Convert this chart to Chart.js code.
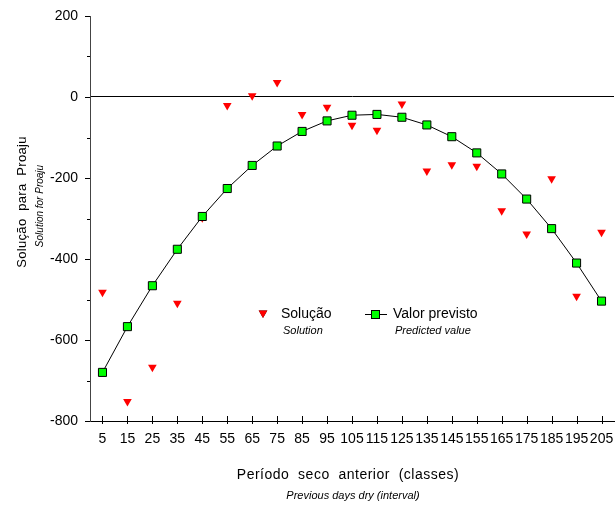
<!DOCTYPE html>
<html>
<head>
<meta charset="utf-8">
<script src="https://cdn.jsdelivr.net/npm/chart.js@4"></script>
<style>
  html, body { margin: 0; padding: 0; background: #fff; }
  canvas { display: block; }
</style>
</head>
<body>
<canvas id="chart" width="615" height="506"></canvas>
<script>
// ---------- dados ----------
const categories = [5, 15, 25, 35, 45, 55, 65, 75, 85, 95, 105, 115, 125, 135, 145, 155, 165, 175, 185, 195, 205];
const solution = [-482, -752, -667, -509, -298, -21, 3, 36, -43, -25, -70, -82, -17, -183, -167, -171, -281, -338, -202, -492, -334];
const predicted = [-680, -567, -466, -376, -295, -226, -169, -121, -85, -59, -45, -43, -50, -69, -98, -138, -190, -252, -325, -410, -504];
const yMajorTicks = [200, 0, -200, -400, -600, -800];

const FONT = "'Liberation Sans', Arial, sans-serif";

// ---------- marcas de eixo, legenda e títulos ----------
const decor = {
  id: 'decor',
  afterDraw(chart) {
    const { ctx, chartArea: area, scales: { x, y } } = chart;
    ctx.save();
    ctx.strokeStyle = '#000';
    ctx.lineWidth = 1;

    // ticks do eixo x (cruzam a linha do eixo)
    categories.forEach((v) => {
      const px = Math.round(x.getPixelForValue(v)) + 0.5;
      ctx.beginPath();
      ctx.moveTo(px, area.bottom - 5);
      ctx.lineTo(px, area.bottom + 3);
      ctx.stroke();
    });

    // ticks do eixo y (maiores a cada 200, menores a cada 100)
    for (let v = -800; v <= 200; v += 100) {
      const py = Math.round(y.getPixelForValue(v)) + 0.5;
      const len = v % 200 === 0 ? 5 : 3;
      ctx.beginPath();
      ctx.moveTo(area.left - len, py);
      ctx.lineTo(area.left, py);
      ctx.stroke();
    }

    // legenda
    ctx.fillStyle = '#000';
    ctx.textBaseline = 'middle';
    ctx.textAlign = 'left';
    Chart.helpers.drawPoint(ctx, { pointStyle: 'triangle', rotation: 180, radius: 5, borderWidth: 0 }, 263, 313);
    ctx.fillStyle = '#ff0000';
    ctx.fill();
    ctx.fillStyle = '#000';
    ctx.font = '14px ' + FONT;
    ctx.fillText('Solução', 281, 314);
    ctx.fillText('Valor previsto', 393, 314);
    ctx.font = 'italic 11px ' + FONT;
    ctx.fillText('Solution', 283, 331);
    ctx.fillText('Predicted value', 395, 331);

    ctx.beginPath();
    ctx.moveTo(365, 314.5);
    ctx.lineTo(387, 314.5);
    ctx.stroke();
    ctx.fillStyle = '#00ff00';
    ctx.fillRect(371.5, 310.5, 8, 8);
    ctx.strokeRect(371.5, 310.5, 8, 8);

    // título do eixo x
    ctx.fillStyle = '#000';
    ctx.textAlign = 'center';
    ctx.font = '14px ' + FONT;
    ctx.letterSpacing = '0.5px';
    ctx.fillText('Período  seco  anterior  (classes)', 348, 475);
    ctx.letterSpacing = '0px';
    ctx.font = 'italic 11px ' + FONT;
    ctx.fillText('Previous days dry (interval)', 353, 496);

    // título do eixo y
    ctx.save();
    ctx.translate(22, 202);
    ctx.rotate(-Math.PI / 2);
    ctx.font = '13px ' + FONT;
    ctx.letterSpacing = '0.3px';
    ctx.fillText('Solução  para  Proaju', 0, 0);
    ctx.restore();
    ctx.save();
    ctx.translate(40, 206);
    ctx.rotate(-Math.PI / 2);
    ctx.font = 'italic 10px ' + FONT;
    ctx.fillText('Solution for Proaju', 0, 0);
    ctx.restore();

    ctx.restore();
  },
};

new Chart(document.getElementById('chart'), {
  type: 'line',
  data: {
    datasets: [
      {
        label: 'Solução',
        data: categories.map((c, i) => ({ x: c, y: solution[i] })),
        showLine: false,
        pointStyle: 'triangle',
        rotation: 180,
        pointRadius: 5,
        pointBackgroundColor: '#ff0000',
        pointBorderWidth: 0,
        order: 2,
      },
      {
        label: 'Valor previsto',
        data: categories.map((c, i) => ({ x: c, y: predicted[i] })),
        borderColor: '#000',
        borderWidth: 1,
        pointStyle: 'rect',
        pointRadius: 5.7,
        pointBackgroundColor: '#00ff00',
        pointBorderColor: '#000',
        pointBorderWidth: 1,
        tension: 0,
        order: 1,
      },
    ],
  },
  options: {
    responsive: false,
    animation: false,
    devicePixelRatio: 1,
    layout: { autoPadding: false, padding: { top: 16, right: 1, bottom: 0, left: 0 } },
    plugins: { legend: { display: false }, tooltip: { enabled: false } },
    scales: {
      x: {
        type: 'linear',
        min: 0,
        max: 210,
        afterBuildTicks: (scale) => { scale.ticks = categories.map((v) => ({ value: v })); },
        afterFit: (scale) => {
          scale.height = 85;
          scale.paddingLeft = 0;
          scale.paddingRight = 0;
        },
        ticks: { autoSkip: false, maxRotation: 0, padding: 2, color: '#000', font: { family: FONT, size: 14 } },
        grid: { display: false },
        border: { display: true, color: '#000', width: 1 },
      },
      y: {
        min: -800,
        max: 200,
        afterBuildTicks: (scale) => { scale.ticks = yMajorTicks.map((v) => ({ value: v })); },
        afterFit: (scale) => {
          scale.width = 90;
          scale.paddingTop = 0;
          scale.paddingBottom = 0;
        },
        ticks: { padding: 12, color: '#000', font: { family: FONT, size: 14 } },
        grid: {
          drawTicks: false,
          color: (ctx) => (ctx.tick && ctx.tick.value === 0 ? '#000' : 'rgba(0,0,0,0)'),
        },
        border: { display: true, color: '#444', width: 1 },
      },
    },
  },
  plugins: [decor],
});
</script>
</body>
</html>
